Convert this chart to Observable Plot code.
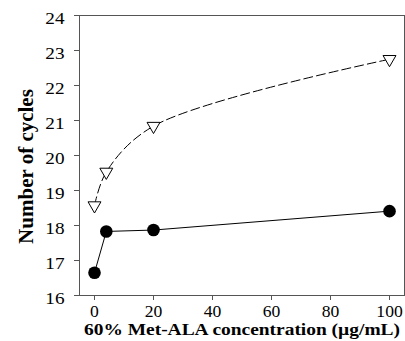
<!DOCTYPE html>
<html>
<head>
<meta charset="utf-8">
<script src="https://cdn.jsdelivr.net/npm/d3@7"></script>
<script src="https://cdn.jsdelivr.net/npm/@observablehq/plot@0.6"></script>
<style>
  html, body { margin: 0; padding: 0; background: #fff; }
  #chart svg, #chart svg text { font-family: "Liberation Serif", "Times New Roman", serif !important; }
</style>
</head>
<body>
<div id="chart"></div>
<script>
const concentrations = [0, 4, 20, 100];
const cyclesCircle = [16.65, 17.83, 17.87, 18.41];
const cyclesTriangle = [18.57, 19.53, 20.84, 22.75];
const xTicks = [0, 20, 40, 60, 80, 100];
const yTicks = [16, 17, 18, 19, 20, 21, 22, 23, 24];
const xLabel = "60% Met-ALA concentration (\u00b5g/mL)";
const yLabel = "Number of cycles";

const circles = concentrations.map((c, i) => ({x: c, y: cyclesCircle[i]}));
const triangles = concentrations.map((c, i) => ({x: c, y: cyclesTriangle[i]}));

const chart = Plot.plot({
  width: 405,
  height: 341,
  marginLeft: 79,
  marginRight: 1,
  marginTop: 15,
  marginBottom: 46,
  style: {fontSize: "16px", color: "#000", background: "#fff"},
  x: {domain: [-5.085, 105.08]},
  y: {domain: [16, 24]},
  marks: [
    Plot.frame({stroke: "#555"}),
    Plot.axisX({ticks: xTicks, tickSize: 5, tickPadding: 5, label: null, stroke: "#555", fill: "#000", fontSize: 16, tickFormat: d => d, className: "xt"}),
    Plot.axisY({ticks: yTicks, tickSize: 5, text: null, label: null, stroke: "#555"}),
    Plot.axisY({ticks: yTicks, tickSize: 0, tickPadding: 15, dy: 3, label: null, fill: "#000", fontSize: 16, className: "yt"}),
    Plot.line(triangles, {x: "x", y: "y", curve: "catmull-rom", stroke: "#000", strokeWidth: 1, strokeDasharray: "9,4"}),
    Plot.line(circles, {x: "x", y: "y", stroke: "#000", strokeWidth: 1}),
    Plot.dot(triangles, {x: "x", y: "y", symbol: "triangle", rotate: 180, r: 4.8, fill: "#fff", stroke: "#000", strokeWidth: 1}),
    Plot.dot(circles, {x: "x", y: "y", r: 6.3, fill: "#000", stroke: null}),
    Plot.text([xLabel], {frameAnchor: "bottom", dy: 39.5, text: d => d, fontWeight: "bold", fontSize: 16, fill: "#000", className: "xl"}),
    Plot.text([yLabel], {frameAnchor: "left", dx: -53, dy: 11, rotate: -90, textAnchor: "middle", text: d => d, fontWeight: "bold", fontSize: 21, fill: "#000"})
  ]
});
document.getElementById("chart").appendChild(chart);

// widen horizontal texts slightly, as in the reference
function stretch(sel, factor, target) {
  chart.querySelectorAll(sel).forEach(t => {
    const w = t.getComputedTextLength();
    t.setAttribute("textLength", target ? target : w * factor);
    t.setAttribute("lengthAdjust", "spacingAndGlyphs");
  });
}
stretch(".xl text", 1, 316);
stretch(".yt text", 1.2);
stretch(".xt text", 1.1);
</script>
</body>
</html>
